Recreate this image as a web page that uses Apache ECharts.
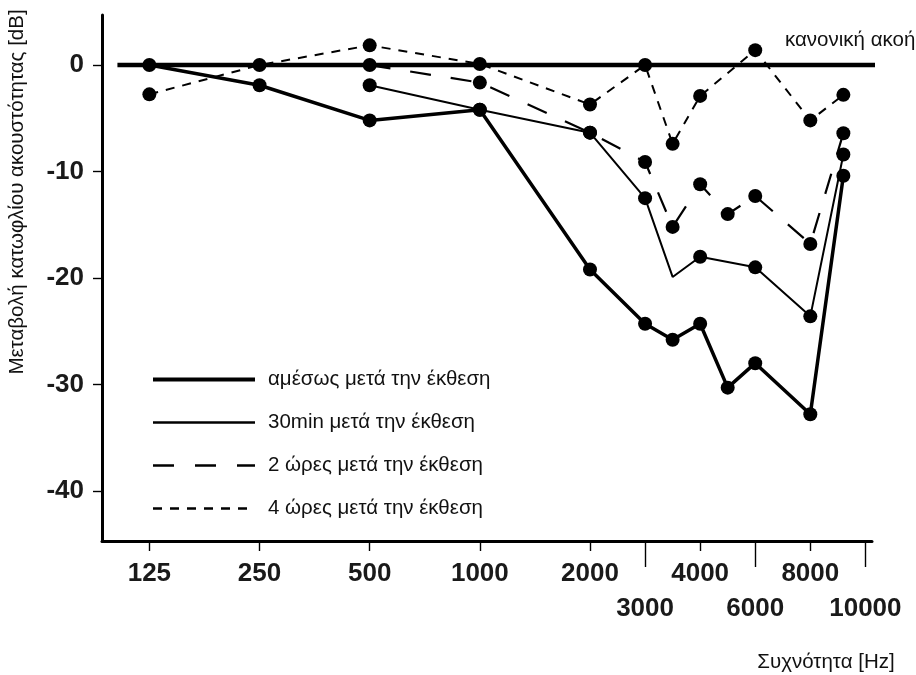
<!DOCTYPE html>
<html>
<head>
<meta charset="utf-8">
<script src="https://cdn.jsdelivr.net/npm/echarts@6/dist/echarts.min.js"></script>
<style>
html,body{margin:0;padding:0;background:#fff;}
#chart{width:916px;height:675px;}
</style>
</head>
<body>
<div id="chart"></div>
<script>
// Axis ticks (x = position in octave steps from 125 Hz, as drawn on the original axis)
const tickPosMain = [0, 1, 2, 3, 4, 5, 6];
const tickLabelsMain = ['125', '250', '500', '1000', '2000', '4000', '8000'];
const tickPosSub = [4.5, 5.5, 6.5];
const tickLabelsSub = ['3000', '6000', '10000'];
const yTicks = [0, -10, -20, -30, -40];

const seriesNames = ['αμέσως μετά την έκθεση', '30min μετά την έκθεση', '2 ώρες μετά την έκθεση', '4 ώρες μετά την έκθεση'];

const xImmediate = [0, 1, 2, 3, 4, 4.5, 4.75, 5, 5.25, 5.5, 6, 6.3];
const yImmediate = [0, -1.9, -5.2, -4.2, -19.2, -24.3, -25.8, -24.3, -30.3, -28.0, -32.8, -10.4];

const x30min = [2, 3, 4, 4.5, 4.75, 5, 5.5, 6, 6.3];
const y30min = [-1.9, -4.2, -6.35, -12.5, -19.9, -18.0, -19.0, -23.6, -8.4];
const marker30min = [1, 1, 1, 1, 0, 1, 1, 1, 1];

const x2h = [2, 3, 4, 4.5, 4.75, 5, 5.25, 5.5, 6, 6.3];
const y2h = [0, -1.65, -6.35, -9.1, -15.2, -11.2, -14.0, -12.3, -16.8, -6.4];

const x4h = [0, 1, 2, 3, 4, 4.5, 4.75, 5, 5.5, 6, 6.3];
const y4h = [-2.75, 0, 1.85, 0.1, -3.7, 0, -7.4, -2.9, 1.4, -5.2, -2.8];

const normalX = [-0.29, 6.6];
const normalY = [0, 0];
const normalLabel = 'κανονική ακοή';

const xAxisName = 'Συχνότητα [Hz]';
const yAxisName = 'Μεταβολή κατωφλίου ακουστότητας [dB]';

const FONT = '"Liberation Sans", Arial, sans-serif';
const INK = '#111';

function zip(xs, ys, marks) {
  return xs.map((x, i) => {
    const item = { value: [x, ys[i]] };
    if (marks && !marks[i]) item.symbol = 'none';
    return item;
  });
}

const chart = echarts.init(document.getElementById('chart'), null, { renderer: 'canvas' });

const lineBase = {
  type: 'line',
  symbol: 'circle',
  symbolSize: 14,
  itemStyle: { color: '#000' },
  animation: false,
  clip: false
};

const option = {
  backgroundColor: '#fff',
  animation: false,
  textStyle: { fontFamily: FONT },
  grid: { left: 102, right: 44, top: 15, bottom: 134, containLabel: false },
  xAxis: [
    {
      type: 'value', min: -0.43, max: 6.56,
      axisLine: { show: true, onZero: false, lineStyle: { color: '#000', width: 3 } },
      axisTick: { show: true, customValues: tickPosMain, length: 10, lineStyle: { color: '#000', width: 1.4 } },
      axisLabel: {
        show: true, customValues: tickPosMain, margin: 20,
        formatter: v => { const i = tickPosMain.findIndex(p => Math.abs(p - v) < 1e-6); return i >= 0 ? tickLabelsMain[i] : ''; },
        fontFamily: FONT, fontWeight: 'bold', fontSize: 26, color: '#1a1a1a'
      },
      splitLine: { show: false }
    },
    {
      type: 'value', min: -0.43, max: 6.56, position: 'bottom',
      axisLine: { show: false, onZero: false },
      axisTick: { show: true, customValues: tickPosSub, length: 26, lineStyle: { color: '#000', width: 1.4 } },
      axisLabel: {
        show: true, customValues: tickPosSub, margin: 55,
        formatter: v => { const i = tickPosSub.findIndex(p => Math.abs(p - v) < 1e-6); return i >= 0 ? tickLabelsSub[i] : ''; },
        fontFamily: FONT, fontWeight: 'bold', fontSize: 26, color: '#1a1a1a'
      },
      splitLine: { show: false }
    }
  ],
  yAxis: {
    type: 'value', min: -44.7, max: 4.7,
    axisLine: { show: true, onZero: false, lineStyle: { color: '#000', width: 3 } },
    axisTick: { show: true, customValues: yTicks, length: 9, lineStyle: { color: '#000', width: 1.4 } },
    axisLabel: { show: true, customValues: yTicks, margin: 18, fontFamily: FONT, fontWeight: 'bold', fontSize: 26, color: '#1a1a1a' },
    splitLine: { show: false }
  },
  legend: {
    orient: 'vertical', left: 146, top: 364,
    itemWidth: 102, itemHeight: 14, itemGap: 22,
    itemStyle: { opacity: 0 },
    textStyle: { fontFamily: FONT, fontSize: 20.5, color: INK, padding: [0, 0, 0, 8] },
    data: [
      { name: seriesNames[0], lineStyle: { width: 4, type: 'solid', color: '#000' } },
      { name: seriesNames[1], lineStyle: { width: 2.3, type: 'solid', color: '#000' } },
      { name: seriesNames[2], lineStyle: { width: 2.3, type: [21, 21], color: '#000' } },
      { name: seriesNames[3], lineStyle: { width: 2.3, type: [9, 8], color: '#000' } }
    ]
  },
  graphic: [
    { type: 'text', x: 17, y: 192, rotation: Math.PI / 2, style: { text: yAxisName, fill: INK, font: '20.5px ' + FONT, align: 'center', verticalAlign: 'middle' } },
    { type: 'text', x: 826, y: 662, style: { text: xAxisName, fill: INK, font: '20.5px ' + FONT, align: 'center', verticalAlign: 'middle' } }
  ],
  series: [
    {
      type: 'line', name: 'normal', data: zip(normalX, normalY), symbol: 'none',
      lineStyle: { color: '#000', width: 4.5 }, clip: false, animation: false, legendHoverLink: false,
      endLabel: { show: true, formatter: normalLabel, offset: [-98, -25], fontFamily: FONT, fontSize: 20.5, color: INK }
    },
    Object.assign({}, lineBase, { name: seriesNames[0], data: zip(xImmediate, yImmediate), lineStyle: { color: '#000', width: 3.5 } }),
    Object.assign({}, lineBase, { name: seriesNames[1], data: zip(x30min, y30min, marker30min), lineStyle: { color: '#000', width: 2 } }),
    Object.assign({}, lineBase, { name: seriesNames[2], data: zip(x2h, y2h), lineStyle: { color: '#000', width: 2.2, type: [21, 20] } }),
    Object.assign({}, lineBase, { name: seriesNames[3], data: zip(x4h, y4h), lineStyle: { color: '#000', width: 2, type: [9, 8] } })
  ]
};

chart.setOption(option);
</script>
</body>
</html>
